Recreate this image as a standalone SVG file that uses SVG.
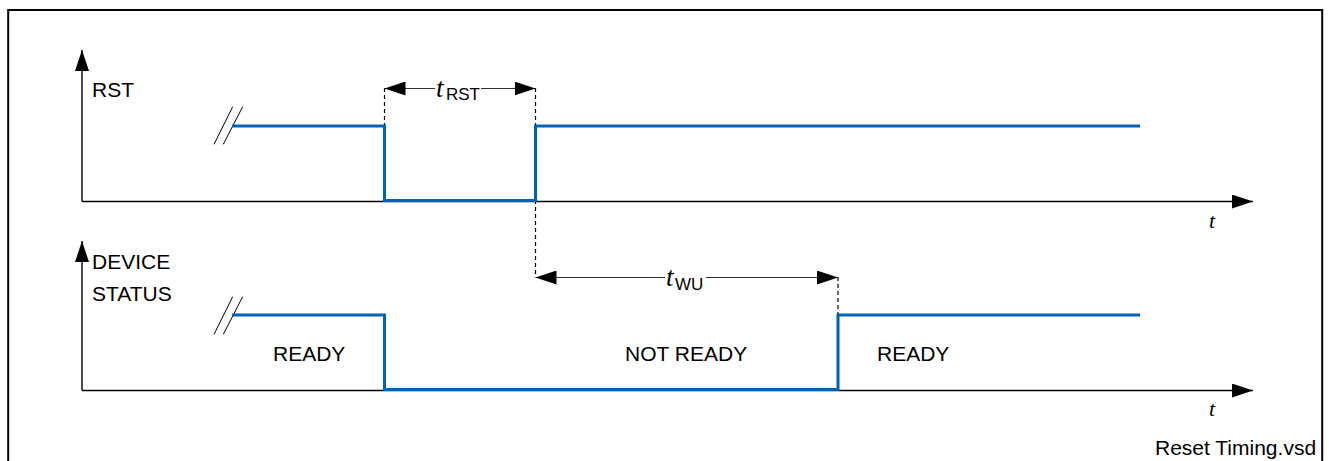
<svg xmlns="http://www.w3.org/2000/svg" width="1329" height="461" viewBox="0 0 1329 461">
<style>
.axis{stroke:#000;stroke-width:1.4;fill:none}
.sig{stroke:#0063b0;stroke-width:3;fill:none;stroke-linejoin:miter}
.dash{stroke:#000;stroke-width:1.2;stroke-dasharray:4 3;fill:none}
.dim{stroke:#333;stroke-width:1.2;fill:none}
.brk{stroke:#000;stroke-width:1;fill:none}
.lbl{font-family:"Liberation Sans",Arial,sans-serif;font-size:21px;fill:#000}
.ti{font-family:"Liberation Serif","Times New Roman",serif;font-style:italic;fill:#000}
.sub{font-family:"Liberation Sans",Arial,sans-serif;font-size:17px;fill:#000}
</style>
<defs>
<marker id="ah" markerUnits="userSpaceOnUse" markerWidth="22" markerHeight="14" refX="21" refY="7" orient="auto-start-reverse" viewBox="0 0 22 14">
<path d="M0,0 L21,7 L0,14 z" fill="#000"/>
</marker>
</defs>
<rect x="8.2" y="10" width="1314" height="470" fill="#fff" stroke="#000" stroke-width="2"/>
<g id="connectors">
<line class="axis" x1="82" y1="201.5" x2="82" y2="50" marker-end="url(#ah)"/>
<line class="axis" x1="82" y1="201.5" x2="1253" y2="201.5" marker-end="url(#ah)"/>
<line class="axis" x1="82" y1="390.5" x2="82" y2="241" marker-end="url(#ah)"/>
<line class="axis" x1="82" y1="390.5" x2="1253" y2="390.5" marker-end="url(#ah)"/>
<line class="dash" x1="384.5" y1="88" x2="384.5" y2="126"/>
<line class="dash" x1="535.5" y1="88" x2="535.5" y2="277"/>
<line class="dash" x1="838" y1="277" x2="838" y2="315"/>
<line class="dim" x1="384.5" y1="88.5" x2="535.5" y2="88.5" marker-start="url(#ah)" marker-end="url(#ah)"/>
<line class="dim" x1="535.5" y1="277.5" x2="838" y2="277.5" marker-start="url(#ah)" marker-end="url(#ah)"/>
</g>
<g id="rst">
<text class="lbl" x="92" y="96.5">RST</text>
<line class="brk" x1="214" y1="144.3" x2="232.7" y2="106.7"/>
<line class="brk" x1="223.3" y1="144.3" x2="242.7" y2="106.7"/>
<polyline class="sig" points="232,126 384.5,126 384.5,200.5 535.5,200.5 535.5,126 1140,126"/>
<text class="ti" x="1209" y="228" font-size="22">t</text>
</g>
<g id="trst">
<rect x="435" y="78" width="46" height="24" fill="#fff"/>
<text class="ti" x="436" y="97" font-size="27">t</text>
<text class="sub" x="446" y="99.5">RST</text>
</g>
<g id="status">
<text class="lbl" x="92" y="268.5">DEVICE</text>
<text class="lbl" x="92" y="300.5">STATUS</text>
<line class="brk" x1="214" y1="334.3" x2="232.7" y2="296.7"/>
<line class="brk" x1="223.3" y1="334.3" x2="242.7" y2="296.7"/>
<polyline class="sig" points="232,315 384.5,315 384.5,389.5 838,389.5 838,315 1140,315"/>
<text class="lbl" x="273" y="361">READY</text>
<text class="lbl" x="625" y="361">NOT READY</text>
<text class="lbl" x="877" y="361">READY</text>
<text class="ti" x="1209" y="416" font-size="22">t</text>
</g>
<g id="twu">
<rect x="665" y="267" width="41" height="24" fill="#fff"/>
<text class="ti" x="666" y="286" font-size="27">t</text>
<text class="sub" x="675" y="289.5">WU</text>
</g>
<text class="lbl" x="1155" y="455">Reset Timing.vsd</text>
</svg>
